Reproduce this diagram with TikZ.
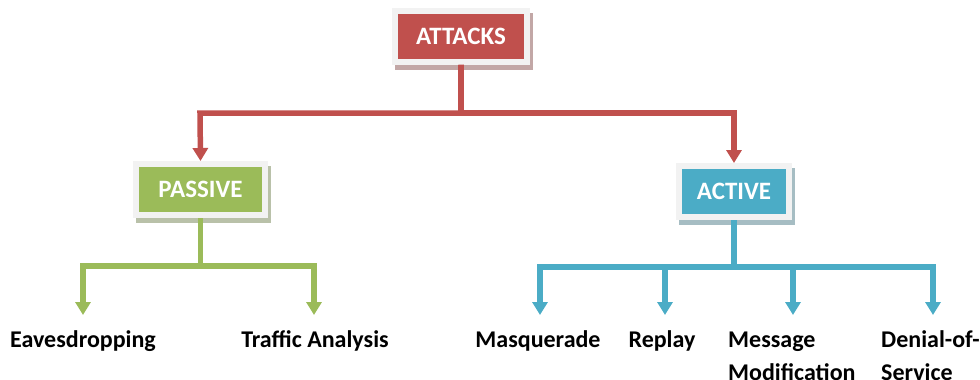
\documentclass[tikz,border=0pt]{standalone}
\usepackage{fontspec}
\setmainfont{Carlito}
\usetikzlibrary{arrows.meta,calc,backgrounds}
\definecolor{cred}{HTML}{C0504D}
\definecolor{cgreen}{HTML}{9BBB59}
\definecolor{cteal}{HTML}{4BACC6}
\definecolor{cframe}{HTML}{F2F2F2}
\colorlet{shred}{cred!40!gray!60!white}
\colorlet{shgreen}{cgreen!40!gray!60!white}
\colorlet{shteal}{cteal!40!gray!60!white}
\tikzset{
  catbox/.style={draw=cframe, line width=6pt, text=white, font=\bfseries\fontsize{25}{30}\selectfont,
    minimum height=51pt, inner sep=0pt},
  leaf/.style={font=\bfseries\fontsize{24}{33}\selectfont, inner sep=0pt, align=left},
  conn/.style={line width=5.5pt, -{Triangle[width=15pt,length=13pt]}},
}
\begin{document}
\begin{tikzpicture}[x=1pt,y=-1pt]
\useasboundingbox (0,0) rectangle (980,380);
% category boxes
\node[catbox, fill=cred, minimum width=132pt] (attacks) at (461,36) {ATTACKS};
\node[catbox, fill=cgreen, minimum width=129pt] (passive) at (200.5,189.5) {PASSIVE};
\node[catbox, fill=cteal, minimum width=110pt] (active) at (734,191.5) {ACTIVE};
% shadows
\begin{scope}[on background layer]
\fill[shred] ($(attacks.north west)+(3,5)$) rectangle ($(attacks.south east)+(3,5)$);
\fill[shgreen] ($(passive.north west)+(3,5)$) rectangle ($(passive.south east)+(3,5)$);
\fill[shteal] ($(active.north west)+(3,5)$) rectangle ($(active.south east)+(3,5)$);
\end{scope}
% leaves
\node[leaf, anchor=base] (eav) at (83,347) {Eavesdropping};
\node[leaf, anchor=base] (traf) at (315,347) {Traffic Analysis};
\node[leaf, anchor=base] (masq) at (538,347) {Masquerade};
\node[leaf, anchor=base] (repl) at (662,347) {Replay};
\node[leaf, anchor=base west] (msg) at (728,380) {Message\\Modification};
\node[leaf, anchor=base west] (dos) at (881,380) {Denial-of-\\Service};
% arrow tips
\coordinate (t1) at (83,315);
\coordinate (t2) at (314,315);
\coordinate (t3) at (540,315);
\coordinate (t4) at (665,315);
\coordinate (t5) at (793,315);
\coordinate (t6) at (933,315);
% connectors
\draw[conn, cred] (attacks.south) |- (200,113) -- (passive.north);
\draw[conn, cred] (attacks.south) |- (734,113) -- (active.north);
\draw[conn, cgreen] (passive.south) |- (t1 |- 0,266) -- (t1);
\draw[conn, cgreen] (passive.south) |- (t2 |- 0,266) -- (t2);
\draw[conn, cteal] (active.south) |- (t3 |- 0,267) -- (t3);
\draw[conn, cteal] (active.south) |- (t4 |- 0,267) -- (t4);
\draw[conn, cteal] (active.south) |- (t5 |- 0,267) -- (t5);
\draw[conn, cteal] (active.south) |- (t6 |- 0,267) -- (t6);
\end{tikzpicture}
\end{document}
